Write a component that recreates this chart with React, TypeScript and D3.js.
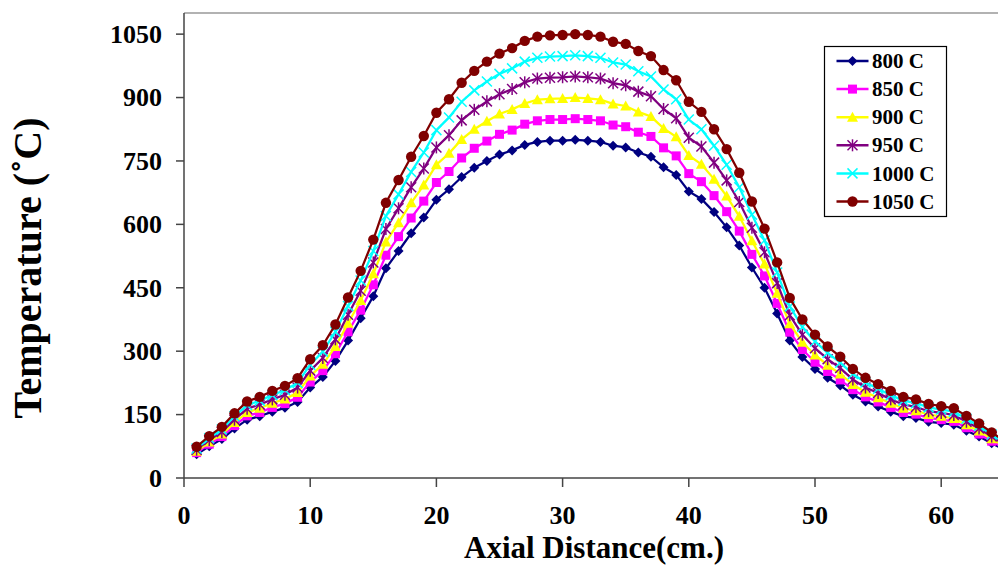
import React from "react";
import * as d3 from "d3";

const distances: number[] = [
  1, 2, 3, 4, 5, 6, 7, 8, 9, 10, 11, 12, 13, 14, 15, 16, 17, 18, 19, 20, 21, 22,
  23, 24, 25, 26, 27, 28, 29, 30, 31, 32, 33, 34, 35, 36, 37, 38, 39, 40, 41, 42,
  43, 44, 45, 46, 47, 48, 49, 50, 51, 52, 53, 54, 55, 56, 57, 58, 59, 60, 61, 62,
  63, 64, 65,
];

const t800: number[] = [
  56, 75, 92, 117, 138, 146, 157, 166, 180, 214, 239, 277, 325, 378, 430, 496, 537,
  579, 616, 658, 683, 712, 734, 750, 765, 775, 788, 795, 798, 798, 800, 798, 795,
  786, 782, 770, 760, 735, 717, 678, 660, 629, 593, 550, 498, 450, 389, 325, 286,
  258, 237, 219, 197, 181, 169, 157, 146, 142, 133, 130, 126, 112, 98, 82, 67,
];
const t850: number[] = [
  60, 80, 98, 124, 147, 155, 167, 176, 191, 227, 254, 294, 346, 397, 457, 527, 571,
  615, 655, 699, 725, 757, 780, 797, 813, 823, 837, 845, 848, 848, 850, 848, 845,
  835, 831, 818, 808, 781, 762, 720, 701, 668, 630, 584, 529, 478, 413, 345, 304,
  274, 252, 232, 209, 192, 180, 167, 155, 151, 142, 138, 134, 119, 104, 87, 71,
];
const t900: number[] = [
  63, 85, 104, 131, 155, 165, 177, 187, 202, 241, 269, 311, 366, 420, 483, 558, 604,
  651, 693, 741, 768, 801, 825, 844, 861, 872, 886, 895, 897, 898, 900, 898, 895,
  885, 880, 866, 855, 827, 807, 763, 742, 707, 667, 619, 561, 506, 437, 365, 321,
  291, 267, 246, 221, 203, 190, 177, 165, 159, 150, 146, 141, 126, 111, 93, 75,
];
const t950: number[] = [
  67, 90, 109, 138, 164, 174, 186, 197, 214, 254, 284, 328, 386, 443, 510, 589, 638,
  688, 732, 782, 811, 846, 871, 891, 908, 920, 936, 945, 947, 948, 950, 948, 945,
  934, 929, 914, 903, 873, 851, 805, 784, 746, 704, 653, 592, 534, 461, 385, 339,
  307, 281, 260, 233, 214, 201, 186, 174, 168, 158, 154, 149, 133, 117, 98, 80,
];
const t1000: number[] = [
  70, 94, 115, 146, 172, 183, 196, 208, 225, 268, 299, 346, 407, 467, 537, 620, 671,
  724, 770, 823, 853, 890, 917, 938, 956, 969, 985, 994, 997, 998, 1000, 998, 994,
  983, 978, 962, 950, 919, 896, 848, 825, 786, 741, 688, 623, 562, 486, 406, 357,
  323, 296, 273, 246, 226, 211, 196, 183, 177, 167, 162, 157, 140, 123, 103, 84,
];
const t1050: number[] = [
  74, 99, 121, 153, 181, 192, 206, 218, 236, 281, 314, 363, 427, 490, 564, 651, 705,
  760, 809, 864, 896, 935, 963, 985, 1004, 1017, 1034, 1044, 1047, 1048, 1050, 1048,
  1044, 1032, 1027, 1010, 998, 965, 941, 890, 866, 825, 778, 722, 654, 590, 510, 426,
  375, 339, 311, 287, 258, 237, 222, 206, 192, 186, 175, 170, 165, 147, 129, 108, 88,
];

const seriesNames: string[] = ["800 C", "850 C", "900 C", "950 C", "1000 C", "1050 C"];
const seriesValues: number[][] = [t800, t850, t900, t950, t1000, t1050];
const seriesColors: string[] = ["#000080", "#FF00FF", "#FFFF00", "#800080", "#00FFFF", "#800000"];
const seriesMarkers: string[] = ["diamond", "square", "triangle", "asterisk", "cross", "circle"];

const yTicks: number[] = [0, 150, 300, 450, 600, 750, 900, 1050];
const xTicks: number[] = [0, 10, 20, 30, 40, 50, 60];

const FONT = "'Liberation Serif', 'Times New Roman', serif";

function Marker({ kind, color, x, y }: { kind: string; color: string; x: number; y: number }) {
  switch (kind) {
    case "diamond":
      return <path d={`M${x},${y - 5}L${x + 5},${y}L${x},${y + 5}L${x - 5},${y}Z`} fill={color} />;
    case "square":
      return <rect x={x - 4.5} y={y - 4.5} width={9} height={9} fill={color} />;
    case "triangle":
      return <path d={`M${x},${y - 5.5}L${x + 5.5},${y + 4.5}L${x - 5.5},${y + 4.5}Z`} fill={color} />;
    case "asterisk":
      return (
        <g stroke={color} strokeWidth={1.5}>
          <line x1={x - 5} y1={y - 5} x2={x + 5} y2={y + 5} />
          <line x1={x - 5} y1={y + 5} x2={x + 5} y2={y - 5} />
          <line x1={x} y1={y - 6} x2={x} y2={y + 6} />
        </g>
      );
    case "cross":
      return (
        <g stroke={color} strokeWidth={1.5}>
          <line x1={x - 5} y1={y - 5} x2={x + 5} y2={y + 5} />
          <line x1={x - 5} y1={y + 5} x2={x + 5} y2={y - 5} />
        </g>
      );
    default:
      return <circle cx={x} cy={y} r={5.2} fill={color} />;
  }
}

export default function App() {
  const width = 998;
  const height = 565;
  const left = 184;
  const top = 13;
  const bottom = 478;

  const x = d3.scaleLinear().domain([0, 70]).range([left, left + 883.4]);
  const y = d3.scaleLinear().domain([0, 1100]).range([bottom, top]);

  const line = d3
    .line<number>()
    .x((_, i) => x(distances[i]))
    .y((d) => y(d));

  return (
    <svg
      width={width}
      height={height}
      style={{ position: "absolute", left: 0, top: 0, background: "#fff" }}
      fontFamily={FONT}
    >
      <rect x={0} y={0} width={width} height={height} fill="#fff" />
      {/* plot border */}
      <line x1={left} y1={top} x2={width} y2={top} stroke="#999" strokeWidth={1.5} />
      {/* axes */}
      <line x1={left} y1={top} x2={left} y2={bottom} stroke="#444" strokeWidth={1.5} />
      <line x1={left} y1={bottom} x2={width} y2={bottom} stroke="#444" strokeWidth={1.5} />
      {yTicks.map((t) => (
        <g key={"y" + t}>
          <line x1={left - 8} x2={left} y1={y(t)} y2={y(t)} stroke="#444" strokeWidth={1.5} />
          <text
            x={162}
            y={y(t)}
            dy="0.34em"
            textAnchor="end"
            fontSize={26}
            fontWeight="bold"
          >
            {t}
          </text>
        </g>
      ))}
      {xTicks.map((t) => (
        <g key={"x" + t}>
          <line x1={x(t)} x2={x(t)} y1={bottom} y2={bottom + 9} stroke="#444" strokeWidth={1.5} />
          <text x={x(t)} y={524} textAnchor="middle" fontSize={26} fontWeight="bold">
            {t}
          </text>
        </g>
      ))}
      {/* series */}
      <g>
        {seriesValues.map((vals, si) => (
          <g key={seriesNames[si]}>
            <path d={line(vals) || ""} fill="none" stroke={seriesColors[si]} strokeWidth={2.25} />
            {vals.map((v, i) => (
              <Marker key={i} kind={seriesMarkers[si]} color={seriesColors[si]} x={x(distances[i])} y={y(v)} />
            ))}
          </g>
        ))}
      </g>
      {/* legend */}
      <rect x={824.5} y={46.5} width={122} height={170} fill="#fff" stroke="#000" strokeWidth={1.2} />
      {seriesNames.map((n, i) => {
        const cy = 61 + i * 28.1;
        return (
          <g key={n}>
            <line x1={836.5} x2={868.5} y1={cy} y2={cy} stroke={seriesColors[i]} strokeWidth={2.5} />
            <Marker kind={seriesMarkers[i]} color={seriesColors[i]} x={852.5} y={cy} />
            <text x={872} y={cy} dy="0.34em" fontSize={21} fontWeight="bold">
              {n}
            </text>
          </g>
        );
      })}
      {/* axis titles */}
      <text x={594} y={558} textAnchor="middle" fontSize={31} fontWeight="bold">
        Axial Distance(cm.)
      </text>
      <text
        transform={`translate(41,268) rotate(-90)`}
        textAnchor="middle"
        fontSize={40}
        fontWeight="bold"
      >
        Temperature (˚C)
      </text>
    </svg>
  );
}
